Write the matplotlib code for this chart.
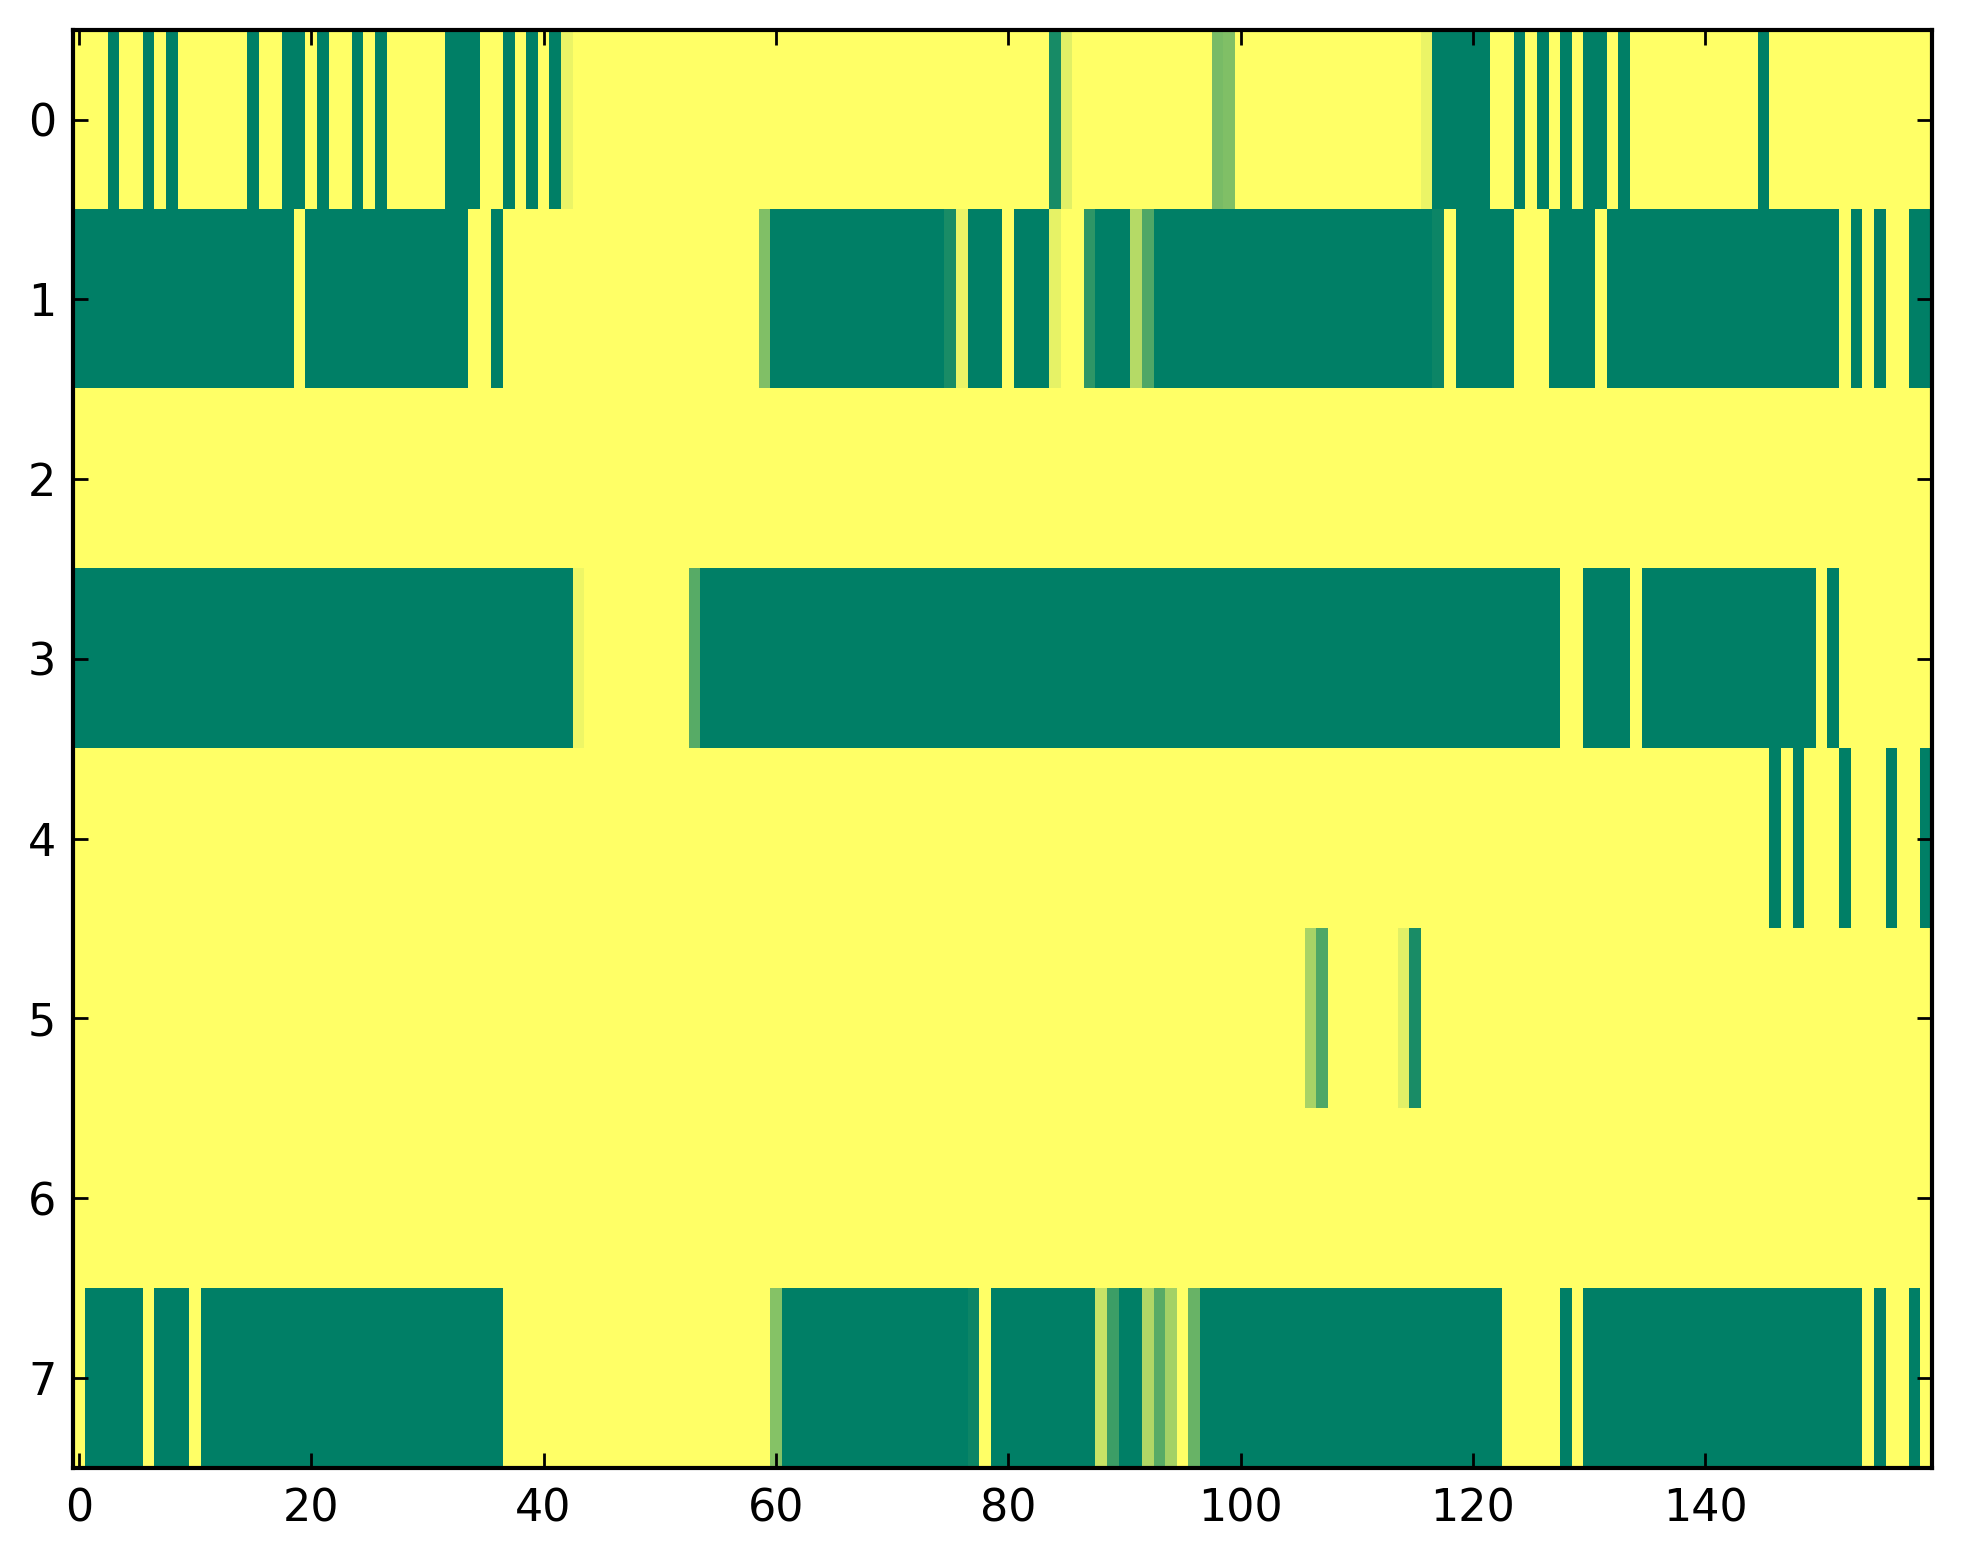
import numpy as np
import matplotlib
matplotlib.use('Agg')
import matplotlib.pyplot as plt

# values, one list per row (160 columns each)
row0 = [1, 1, 1, 0, 1, 1, 0, 1, 0, 1,
        1, 1, 1, 1, 1, 0, 1, 1, 0, 0,
        1, 0, 1, 1, 0, 1, 0, 1, 1, 1,
        1, 1, 0, 0, 0, 1, 1, 0, 1, 0,
        1, 0, .92, 1, 1, 1, 1, 1, 1, 1,
        1, 1, 1, 1, 1, 1, 1, 1, 1, 1,
        1, 1, 1, 1, 1, 1, 1, 1, 1, 1,
        1, 1, 1, 1, 1, 1, 1, 1, 1, 1,
        1, 1, 1, 1, .09, .88, 1, 1, 1, 1,
        1, 1, 1, 1, 1, 1, 1, 1, .47, .5,
        1, 1, 1, 1, 1, 1, 1, 1, 1, 1,
        1, 1, 1, 1, 1, 1, .92, 0, 0, 0,
        0, 0, 1, 1, 0, 1, 0, 1, 0, 1,
        0, 0, 1, 0, 1, 1, 1, 1, 1, 1,
        1, 1, 1, 1, 1, 0, 1, 1, 1, 1,
        1, 1, 1, 1, 1, 1, 1, 1, 1, 1]

row1 = [0, 0, 0, 0, 0, 0, 0, 0, 0, 0,
        0, 0, 0, 0, 0, 0, 0, 0, 0, 1,
        0, 0, 0, 0, 0, 0, 0, 0, 0, 0,
        0, 0, 0, 0, 1, 1, 0, 1, 1, 1,
        1, 1, 1, 1, 1, 1, 1, 1, 1, 1,
        1, 1, 1, 1, 1, 1, 1, 1, 1, .5,
        0, 0, 0, 0, 0, 0, 0, 0, 0, 0,
        0, 0, 0, 0, 0, .1, .92, 0, 0, 0,
        1, 0, 0, 0, .9, 1, 1, .18, 0, 0,
        0, .71, .31, 0, 0, 0, 0, 0, 0, 0,
        0, 0, 0, 0, 0, 0, 0, 0, 0, 0,
        0, 0, 0, 0, 0, 0, 0, .05, 1, 0,
        0, 0, 0, 0, 1, 1, 1, 0, 0, 0,
        0, 1, 0, 0, 0, 0, 0, 0, 0, 0,
        0, 0, 0, 0, 0, 0, 0, 0, 0, 0,
        0, 0, 1, 0, 1, 0, 1, 1, 0, 0]

row2 = [1] * 160

row3 = [0, 0, 0, 0, 0, 0, 0, 0, 0, 0,
        0, 0, 0, 0, 0, 0, 0, 0, 0, 0,
        0, 0, 0, 0, 0, 0, 0, 0, 0, 0,
        0, 0, 0, 0, 0, 0, 0, 0, 0, 0,
        0, 0, 0, .93, 1, 1, 1, 1, 1, 1,
        1, 1, 1, .34, 0, 0, 0, 0, 0, 0,
        0, 0, 0, 0, 0, 0, 0, 0, 0, 0,
        0, 0, 0, 0, 0, 0, 0, 0, 0, 0,
        0, 0, 0, 0, 0, 0, 0, 0, 0, 0,
        0, 0, 0, 0, 0, 0, 0, 0, 0, 0,
        0, 0, 0, 0, 0, 0, 0, 0, 0, 0,
        0, 0, 0, 0, 0, 0, 0, 0, 0, 0,
        0, 0, 0, 0, 0, 0, 0, 0, 1, 1,
        0, 0, 0, 0, 1, 0, 0, 0, 0, 0,
        0, 0, 0, 0, 0, 0, 0, 0, 0, 0,
        1, 0, 1, 1, 1, 1, 1, 1, 1, 1]

row4 = [1, 1, 1, 1, 1, 1, 1, 1, 1, 1,
        1, 1, 1, 1, 1, 1, 1, 1, 1, 1,
        1, 1, 1, 1, 1, 1, 1, 1, 1, 1,
        1, 1, 1, 1, 1, 1, 1, 1, 1, 1,
        1, 1, 1, 1, 1, 1, 1, 1, 1, 1,
        1, 1, 1, 1, 1, 1, 1, 1, 1, 1,
        1, 1, 1, 1, 1, 1, 1, 1, 1, 1,
        1, 1, 1, 1, 1, 1, 1, 1, 1, 1,
        1, 1, 1, 1, 1, 1, 1, 1, 1, 1,
        1, 1, 1, 1, 1, 1, 1, 1, 1, 1,
        1, 1, 1, 1, 1, 1, 1, 1, 1, 1,
        1, 1, 1, 1, 1, 1, 1, 1, 1, 1,
        1, 1, 1, 1, 1, 1, 1, 1, 1, 1,
        1, 1, 1, 1, 1, 1, 1, 1, 1, 1,
        1, 1, 1, 1, 1, 1, 0, 1, 0, 1,
        1, 1, 0, 1, 1, 1, 0, 1, 1, 0]

row5 = [1, 1, 1, 1, 1, 1, 1, 1, 1, 1,
        1, 1, 1, 1, 1, 1, 1, 1, 1, 1,
        1, 1, 1, 1, 1, 1, 1, 1, 1, 1,
        1, 1, 1, 1, 1, 1, 1, 1, 1, 1,
        1, 1, 1, 1, 1, 1, 1, 1, 1, 1,
        1, 1, 1, 1, 1, 1, 1, 1, 1, 1,
        1, 1, 1, 1, 1, 1, 1, 1, 1, 1,
        1, 1, 1, 1, 1, 1, 1, 1, 1, 1,
        1, 1, 1, 1, 1, 1, 1, 1, 1, 1,
        1, 1, 1, 1, 1, 1, 1, 1, 1, 1,
        1, 1, 1, 1, 1, 1, .66, .31, 1, 1,
        1, 1, 1, 1, .88, .1, 1, 1, 1, 1,
        1, 1, 1, 1, 1, 1, 1, 1, 1, 1,
        1, 1, 1, 1, 1, 1, 1, 1, 1, 1,
        1, 1, 1, 1, 1, 1, 1, 1, 1, 1,
        1, 1, 1, 1, 1, 1, 1, 1, 1, 1]

row6 = [1] * 160

row7 = [1, 0, 0, 0, 0, 0, 1, 0, 0, 0,
        1, 0, 0, 0, 0, 0, 0, 0, 0, 0,
        0, 0, 0, 0, 0, 0, 0, 0, 0, 0,
        0, 0, 0, 0, 0, 0, 0, 1, 1, 1,
        1, 1, 1, 1, 1, 1, 1, 1, 1, 1,
        1, 1, 1, 1, 1, 1, 1, 1, 1, 1,
        .52, 0, 0, 0, 0, 0, 0, 0, 0, 0,
        0, 0, 0, 0, 0, 0, 0, .05, 1, 0,
        0, 0, 0, 0, 0, 0, 0, 0, .78, .24,
        0, 0, .69, .34, .64, 1, .41, 0, 0, 0,
        0, 0, 0, 0, 0, 0, 0, 0, 0, 0,
        0, 0, 0, 0, 0, 0, 0, 0, 0, 0,
        0, 0, 0, 1, 1, 1, 1, 1, 0, 1,
        0, 0, 0, 0, 0, 0, 0, 0, 0, 0,
        0, 0, 0, 0, 0, 0, 0, 0, 0, 0,
        0, 0, 0, 0, 1, 0, 1, 1, 0, 1]

x_ticks = [0, 20, 40, 60, 80, 100, 120, 140]
y_ticks = [0, 1, 2, 3, 4, 5, 6, 7]

grid = np.array([row0, row1, row2, row3, row4, row5, row6, row7], dtype=float)

fig = plt.figure(figsize=(19.63, 15.64), dpi=100)
ax = fig.add_axes([0.0372, 0.0615, 0.9470, 0.9195])

ax.imshow(grid, cmap='summer', vmin=0, vmax=1, aspect='auto',
          interpolation='nearest')

ax.set_xticks(x_ticks)
ax.set_yticks(y_ticks)
ax.tick_params(direction='in', top=True, right=True, length=11, width=2.0,
               labelsize=32, pad=12)
ax.tick_params(axis='x', pad=14)
for s in ax.spines.values():
    s.set_linewidth(3.0)

plt.savefig('out.png', dpi=100)
